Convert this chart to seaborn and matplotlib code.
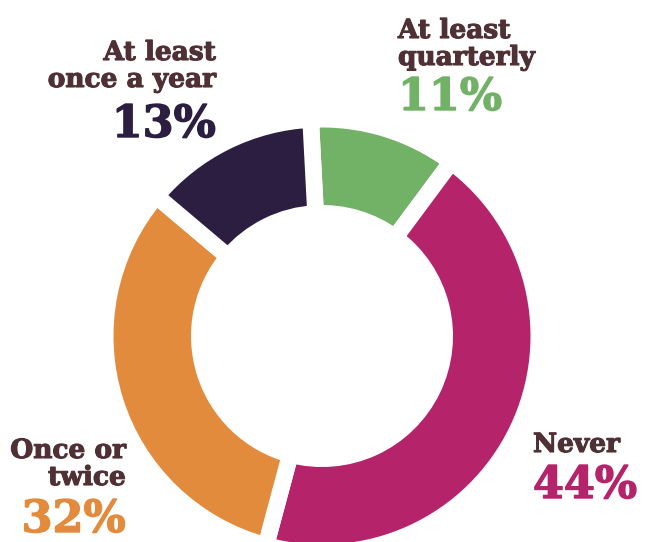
import matplotlib
matplotlib.use("Agg")
import matplotlib.pyplot as plt
import matplotlib.patheffects as pe
import seaborn as sns

# Survey: how often respondents did it
categories = ["At least\nquarterly", "Never", "Once or\ntwice", "At least\nonce a year"]
shares = [11, 44, 32, 13]
colors = ["#72B266", "#B5236A", "#E38B3C", "#2C1E40"]

sns.set_theme(style="white")
plt.rcParams["font.family"] = ["DejaVu Serif"]

W, H = 658, 542
fig = plt.figure(figsize=(W / 100, H / 100), dpi=100)
ax = fig.add_axes([0, 0, 1, 1])

# ring geometry in pixels; white edges leave the gaps between segments
cx, cy = 322, H - 336
gap_pt = 12
half_gap = gap_pt * 100 / 72 / 2
outer = 208.5 + half_gap
inner = 131 - half_gap
ax.pie(shares, colors=colors, startangle=93, counterclock=False,
       center=(cx, cy), radius=outer,
       wedgeprops=dict(width=outer - inner, edgecolor="white", linewidth=gap_pt))
ax.set_xlim(0, W)
ax.set_ylim(0, H)
ax.set_aspect("equal")
ax.axis("off")

label_color = "#4F3035"
# x, first-line baseline, percentage baseline, alignment
anchors = [
    (398, 38, 110, "left"),
    (533, 452, 498, "left"),
    (126, 458, 532, "right"),
    (216, 60, 137, "right"),
]
for name, pct, col, (x, y0, yp, ha) in zip(categories, shares, colors, anchors):
    for i, line in enumerate(name.split("\n")):
        ax.text(x, H - (y0 + 27 * i), line, ha=ha, va="baseline", fontsize=19,
                fontweight="bold", color=label_color,
                path_effects=[pe.withStroke(linewidth=0.8, foreground=label_color)])
    ax.text(x, H - yp, f"{pct}%", ha=ha, va="baseline", fontsize=32,
            fontweight="bold", color=col,
            path_effects=[pe.withStroke(linewidth=1.0, foreground=col)])

fig.savefig("out.png", dpi=100)
